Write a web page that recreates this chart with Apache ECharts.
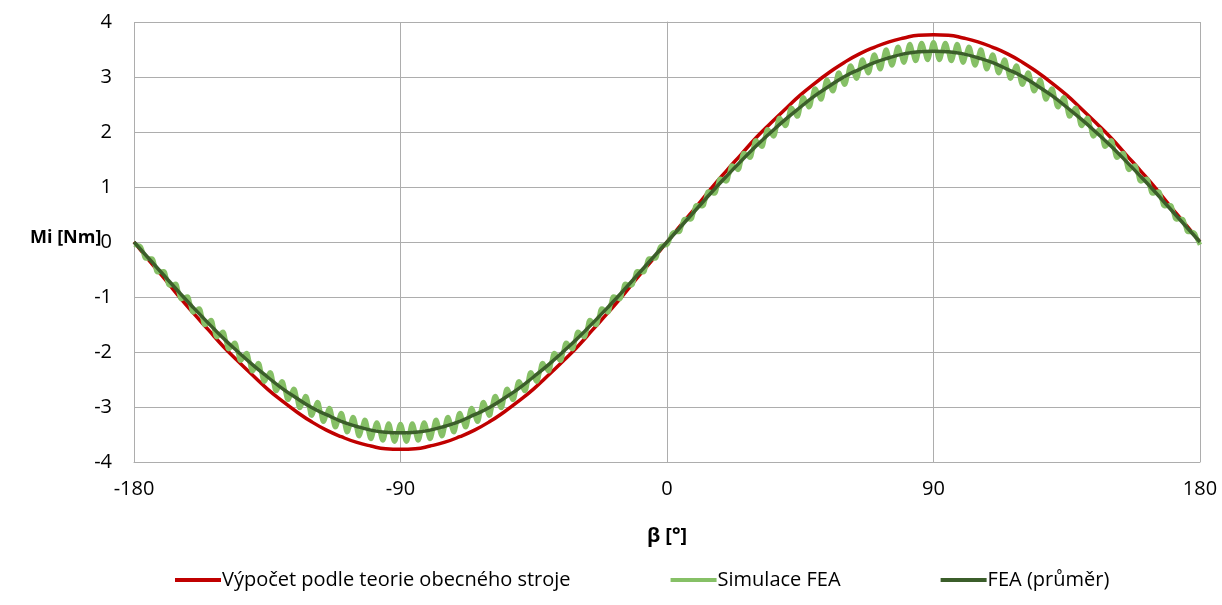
<!DOCTYPE html>
<html>
<head>
<meta charset="utf-8">
<script src="https://cdn.jsdelivr.net/npm/echarts@6/dist/echarts.min.js"></script>
<style>
  html, body { margin: 0; padding: 0; background: #fff; }
  #chart { width: 1222px; height: 605px; }
</style>
</head>
<body>
<div id="chart"></div>
<script>
// Torque Mi [Nm] versus load angle β [°]

// Angle sampling of the series (degrees)
const betaStart = -180;
const theoryStep = 5;
const simStep = 1;
const meanStep = 5;

// Axis ticks
const xTicks = [-180, -90, 0, 90, 180];
const yTicks = [-4, -3, -2, -1, 0, 1, 2, 3, 4];

// Výpočet podle teorie obecného stroje (every 5°)
const theoryValues = [
  0, -0.33, -0.65, -0.98, -1.29, -1.59, -1.89, -2.16, -2.42, -2.67, -2.89, -3.09, -3.27, -3.42, -3.54, -3.64, -3.71, -3.76, -3.77,
  -3.76, -3.71, -3.64, -3.54, -3.42, -3.27, -3.09, -2.89, -2.67, -2.42, -2.16, -1.89, -1.59, -1.29, -0.98, -0.65, -0.33, 0,
  0.33, 0.65, 0.98, 1.29, 1.59, 1.89, 2.16, 2.42, 2.67, 2.89, 3.09, 3.27, 3.42, 3.54, 3.64, 3.71, 3.76, 3.77,
  3.76, 3.71, 3.64, 3.54, 3.42, 3.27, 3.09, 2.89, 2.67, 2.42, 2.16, 1.89, 1.59, 1.29, 0.98, 0.65, 0.33, 0
];

// Simulace FEA (every 1°, with cogging ripple)
const simValues = [
  -0.05, -0.06, -0.07, -0.18, -0.30, -0.30, -0.30, -0.42, -0.55, -0.54,
  -0.53, -0.66, -0.79, -0.78, -0.76, -0.90, -1.04, -1.01, -0.99, -1.13,
  -1.28, -1.24, -1.21, -1.36, -1.51, -1.47, -1.42, -1.58, -1.73, -1.68,
  -1.63, -1.79, -1.95, -1.89, -1.83, -1.99, -2.16, -2.09, -2.02, -2.18,
  -2.35, -2.28, -2.20, -2.37, -2.54, -2.45, -2.37, -2.54, -2.71, -2.62,
  -2.53, -2.70, -2.87, -2.77, -2.67, -2.84, -3.02, -2.91, -2.80, -2.97,
  -3.16, -3.03, -2.91, -3.09, -3.27, -3.14, -3.02, -3.19, -3.37, -3.24,
  -3.11, -3.28, -3.46, -3.32, -3.18, -3.35, -3.53, -3.38, -3.23, -3.41,
  -3.58, -3.43, -3.28, -3.44, -3.61, -3.46, -3.30, -3.47, -3.63, -3.47,

  -3.31, -3.47, -3.63, -3.47, -3.30, -3.46, -3.61, -3.44, -3.28, -3.43,
  -3.58, -3.41, -3.23, -3.38, -3.53, -3.35, -3.18, -3.32, -3.46, -3.28,
  -3.11, -3.24, -3.37, -3.19, -3.02, -3.14, -3.27, -3.09, -2.91, -3.03,
  -3.16, -2.97, -2.80, -2.91, -3.02, -2.84, -2.67, -2.77, -2.87, -2.70,
  -2.53, -2.62, -2.71, -2.54, -2.37, -2.45, -2.54, -2.37, -2.20, -2.28,
  -2.35, -2.18, -2.02, -2.09, -2.16, -1.99, -1.83, -1.89, -1.95, -1.79,
  -1.63, -1.68, -1.73, -1.58, -1.42, -1.47, -1.51, -1.36, -1.21, -1.24,
  -1.28, -1.13, -0.99, -1.01, -1.04, -0.90, -0.76, -0.78, -0.79, -0.66,
  -0.53, -0.54, -0.55, -0.42, -0.30, -0.30, -0.30, -0.18, -0.07, -0.06,

  -0.05, 0.06, 0.17, 0.18, 0.18, 0.30, 0.42, 0.42, 0.41, 0.54,
  0.67, 0.66, 0.65, 0.78, 0.92, 0.90, 0.88, 1.01, 1.15, 1.13,
  1.10, 1.24, 1.39, 1.36, 1.31, 1.47, 1.62, 1.58, 1.53, 1.68,
  1.85, 1.79, 1.73, 1.89, 2.05, 1.99, 1.92, 2.09, 2.26, 2.18,
  2.11, 2.28, 2.44, 2.37, 2.28, 2.45, 2.63, 2.54, 2.45, 2.62,
  2.79, 2.70, 2.59, 2.77, 2.95, 2.84, 2.74, 2.91, 3.08, 2.97,
  2.86, 3.03, 3.21, 3.09, 2.97, 3.14, 3.32, 3.19, 3.07, 3.24,
  3.41, 3.28, 3.14, 3.32, 3.50, 3.35, 3.21, 3.38, 3.55, 3.41,
  3.26, 3.43, 3.60, 3.44, 3.29, 3.46, 3.62, 3.47, 3.31, 3.47,
  3.63,

  3.47, 3.31, 3.47, 3.62, 3.46, 3.29, 3.44, 3.60, 3.43, 3.26,
  3.41, 3.55, 3.38, 3.21, 3.35, 3.50, 3.32, 3.14, 3.28, 3.41,
  3.24, 3.07, 3.19, 3.32, 3.14, 2.97, 3.09, 3.21, 3.03, 2.86,
  2.97, 3.08, 2.91, 2.74, 2.84, 2.95, 2.77, 2.59, 2.70, 2.79,
  2.62, 2.45, 2.54, 2.63, 2.45, 2.28, 2.37, 2.44, 2.28, 2.11,
  2.18, 2.26, 2.09, 1.92, 1.99, 2.05, 1.89, 1.73, 1.79, 1.85,
  1.68, 1.53, 1.58, 1.62, 1.47, 1.31, 1.36, 1.39, 1.24, 1.10,
  1.13, 1.15, 1.01, 0.88, 0.90, 0.92, 0.78, 0.65, 0.66, 0.67,
  0.54, 0.41, 0.42, 0.42, 0.30, 0.18, 0.18, 0.17, 0.06, -0.05
];

// FEA (průměr) (every 5°)
const meanValues = [
  0, -0.30, -0.60, -0.90, -1.19, -1.47, -1.74, -1.99, -2.23, -2.45, -2.66, -2.84, -3.01, -3.14, -3.26, -3.35, -3.42, -3.46, -3.47,
  -3.46, -3.42, -3.35, -3.26, -3.14, -3.01, -2.84, -2.66, -2.45, -2.23, -1.99, -1.74, -1.47, -1.19, -0.90, -0.60, -0.30, 0,
  0.30, 0.60, 0.90, 1.19, 1.47, 1.74, 1.99, 2.23, 2.45, 2.66, 2.84, 3.01, 3.14, 3.26, 3.35, 3.42, 3.46, 3.47,
  3.46, 3.42, 3.35, 3.26, 3.14, 3.01, 2.84, 2.66, 2.45, 2.23, 1.99, 1.74, 1.47, 1.19, 0.90, 0.60, 0.30, 0
];

const seriesNames = ['Výpočet podle teorie obecného stroje', 'Simulace FEA', 'FEA (průměr)'];
const seriesColors = ['#C00000', '#86C066', '#3B5E2A'];

// Pair each value with its angle
function withAngles(values, step) {
  return values.map((v, i) => [betaStart + i * step, v]);
}

const fontFamily = '"Open Sans", "Noto Sans", sans-serif';
const gridColor = '#ADADAD';

const chart = echarts.init(document.getElementById('chart'), null, { renderer: 'canvas' });

chart.setOption({
  animation: false,
  backgroundColor: '#ffffff',
  textStyle: { fontFamily: fontFamily, color: '#000' },
  grid: { left: 134, right: 22, top: 22, bottom: 143, containLabel: false },
  xAxis: {
    type: 'value',
    min: xTicks[0],
    max: xTicks[xTicks.length - 1],
    interval: 90,
    name: 'β [°]',
    nameLocation: 'middle',
    nameGap: 64,
    nameTextStyle: { fontFamily: fontFamily, fontSize: 20, fontWeight: 'bold', color: '#000' },
    axisLine: { show: true, onZero: false, lineStyle: { color: gridColor, width: 1 } },
    axisTick: { show: false },
    axisLabel: { fontFamily: fontFamily, fontSize: 20, color: '#000', margin: 17 },
    splitLine: { show: true, lineStyle: { color: gridColor, width: 1 } }
  },
  yAxis: {
    type: 'value',
    min: yTicks[0],
    max: yTicks[yTicks.length - 1],
    interval: 1,
    axisLine: { show: true, lineStyle: { color: gridColor, width: 1 } },
    axisTick: { show: false },
    axisLabel: { fontFamily: fontFamily, fontSize: 20, color: '#000', margin: 22 },
    splitLine: { show: true, lineStyle: { color: gridColor, width: 1 } }
  },
  graphic: [{
    type: 'text',
    left: 30,
    top: 229,
    style: { text: 'Mi [Nm]', font: 'bold 18px ' + fontFamily, fill: '#000' }
  }],
  legend: {
    bottom: 10,
    left: 170,
    itemWidth: 46,
    itemHeight: 4,
    itemGap: 100,
    icon: 'rect',
    textStyle: { fontFamily: fontFamily, fontSize: 20, color: '#000', padding: [0, 0, 0, -4] },
    data: seriesNames
  },
  series: [
    {
      name: seriesNames[0],
      type: 'line',
      data: withAngles(theoryValues, theoryStep),
      smooth: true,
      showSymbol: false,
      symbol: 'none',
      lineStyle: { color: seriesColors[0], width: 3.5 },
      itemStyle: { color: seriesColors[0] },
      z: 2
    },
    {
      name: seriesNames[1],
      type: 'line',
      data: withAngles(simValues, simStep),
      smooth: true,
      showSymbol: false,
      symbol: 'none',
      lineStyle: { color: seriesColors[1], width: 4.5 },
      itemStyle: { color: seriesColors[1] },
      z: 3
    },
    {
      name: seriesNames[2],
      type: 'line',
      data: withAngles(meanValues, meanStep),
      smooth: true,
      showSymbol: false,
      symbol: 'none',
      lineStyle: { color: seriesColors[2], width: 3.5 },
      itemStyle: { color: seriesColors[2] },
      z: 4
    }
  ]
});
</script>
</body>
</html>
